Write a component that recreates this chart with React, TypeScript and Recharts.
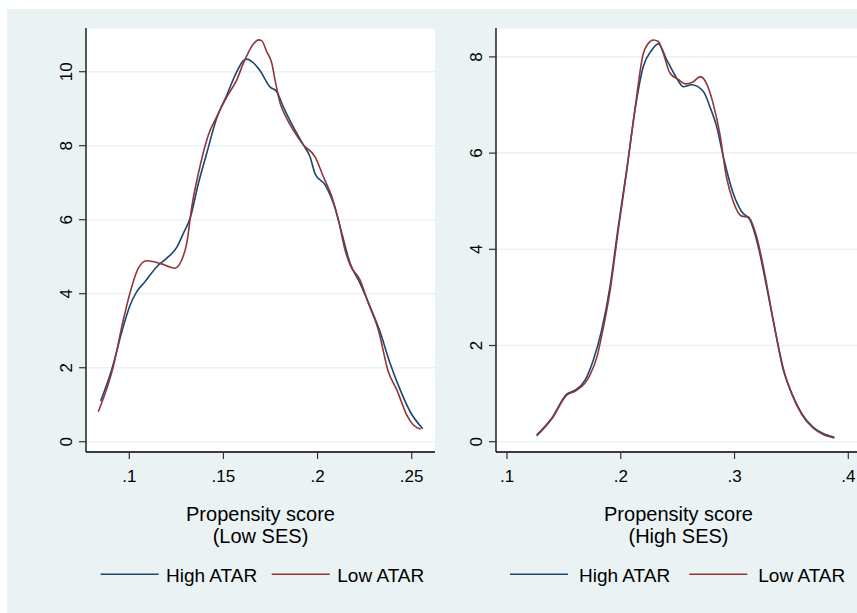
import React from 'react';
import { LineChart, Line, XAxis, YAxis, CartesianGrid, Legend } from 'recharts';

// ---- Data ----
const lowSesHighAtarX = [0.0848, 0.0906, 0.0968, 0.1004, 0.1039, 0.1083, 0.1146, 0.1199, 0.1252, 0.1287, 0.1323, 0.1367, 0.1411, 0.1464, 0.1518, 0.1571, 0.1606, 0.1624, 0.165, 0.1694, 0.1747, 0.1783, 0.1818, 0.1871, 0.1925, 0.196, 0.1987, 0.204, 0.2093, 0.2129, 0.2173, 0.2226, 0.2279, 0.2332, 0.2385, 0.2439, 0.2492, 0.2559];
const lowSesHighAtarY = [1.1, 1.94, 3.11, 3.69, 4.05, 4.32, 4.73, 4.96, 5.25, 5.63, 6.04, 6.98, 7.79, 8.74, 9.37, 10.0, 10.3, 10.34, 10.28, 10.03, 9.59, 9.46, 9.05, 8.51, 8.02, 7.7, 7.24, 6.94, 6.31, 5.63, 4.82, 4.28, 3.65, 2.97, 2.12, 1.4, 0.81, 0.35];

const lowSesLowAtarX = [0.0835, 0.0915, 0.0968, 0.1013, 0.1048, 0.1092, 0.1163, 0.1243, 0.1278, 0.1305, 0.1332, 0.1367, 0.142, 0.1464, 0.1518, 0.1571, 0.1606, 0.1659, 0.1686, 0.1703, 0.173, 0.1757, 0.1774, 0.1801, 0.1836, 0.1871, 0.1925, 0.1987, 0.2031, 0.2076, 0.2111, 0.2146, 0.2173, 0.2226, 0.227, 0.2323, 0.2376, 0.2421, 0.2474, 0.2509, 0.2548];
const lowSesLowAtarY = [0.81, 2.03, 3.29, 4.19, 4.69, 4.89, 4.82, 4.69, 4.91, 5.36, 6.35, 7.25, 8.29, 8.78, 9.32, 9.78, 10.23, 10.75, 10.86, 10.84, 10.54, 10.23, 9.78, 9.15, 8.74, 8.42, 8.02, 7.7, 7.16, 6.62, 5.99, 5.18, 4.78, 4.37, 3.74, 3.02, 1.89, 1.4, 0.72, 0.45, 0.34];

const highSesHighAtarX = [0.1261, 0.1393, 0.1525, 0.1598, 0.1686, 0.1759, 0.1832, 0.1905, 0.1978, 0.2052, 0.2125, 0.2198, 0.2272, 0.233, 0.2404, 0.2491, 0.255, 0.2623, 0.2726, 0.2784, 0.2843, 0.2901, 0.2989, 0.3063, 0.3136, 0.3209, 0.3282, 0.3356, 0.3429, 0.3502, 0.359, 0.3692, 0.378, 0.3877];
const highSesHighAtarY = [0.14, 0.49, 0.99, 1.07, 1.28, 1.7, 2.32, 3.22, 4.47, 5.65, 6.9, 7.8, 8.14, 8.27, 7.94, 7.56, 7.38, 7.42, 7.28, 6.96, 6.55, 5.93, 5.16, 4.78, 4.61, 4.05, 3.22, 2.32, 1.49, 1.01, 0.59, 0.3, 0.17, 0.09];

const highSesLowAtarX = [0.1261, 0.1393, 0.1525, 0.1598, 0.1686, 0.173, 0.1795, 0.1832, 0.1905, 0.1978, 0.2052, 0.2125, 0.2198, 0.2242, 0.2286, 0.233, 0.2374, 0.2433, 0.2506, 0.2567, 0.2635, 0.27, 0.2753, 0.2811, 0.287, 0.2928, 0.2989, 0.3063, 0.3121, 0.3194, 0.3253, 0.334, 0.3429, 0.3502, 0.359, 0.3692, 0.378, 0.3877];
const highSesLowAtarY = [0.12, 0.47, 0.97, 1.05, 1.22, 1.39, 1.8, 2.2, 3.12, 4.4, 5.62, 6.92, 8.07, 8.28, 8.35, 8.32, 8.07, 7.66, 7.53, 7.44, 7.48, 7.59, 7.45, 7.04, 6.41, 5.51, 4.99, 4.69, 4.67, 4.26, 3.64, 2.53, 1.52, 1.0, 0.57, 0.28, 0.15, 0.08];

const seriesNames = ['High ATAR', 'Low ATAR'];
const seriesColors = ['#1a476f', '#90353b'];

const lowSesXTicks = [0.1, 0.15, 0.2, 0.25];
const lowSesXTickLabels = ['.1', '.15', '.2', '.25'];
const lowSesYTicks = [0, 2, 4, 6, 8, 10];
const highSesXTicks = [0.1, 0.2, 0.3, 0.4];
const highSesXTickLabels = ['.1', '.2', '.3', '.4'];
const highSesYTicks = [0, 2, 4, 6, 8];

const lowSesTitle = ['Propensity score', '(Low SES)'];
const highSesTitle = ['Propensity score', '(High SES)'];

// ---- Helpers ----
const FONT = '"Liberation Sans", Arial, Helvetica, sans-serif';
const toPoints = (xs: number[], ys: number[]) => xs.map((x, i) => ({ x, y: ys[i] }));

type PanelProps = {
  width: number;
  marginLeft: number;
  marginRight: number;
  xDomain: [number, number];
  yDomain: [number, number];
  xTicks: number[];
  xTickLabels: string[];
  yTicks: number[];
  high: { x: number; y: number }[];
  low: { x: number; y: number }[];
  title: string[];
  legendX: number[];
};

const Panel = (p: PanelProps) => {
  const XTick = (props: any) => {
    const { x, y, payload } = props;
    const idx = p.xTicks.findIndex((t) => Math.abs(t - payload.value) < 1e-9);
    return (
      <text x={x} y={y + 20.7} textAnchor="middle" fontSize={17} fontFamily={FONT} fill="#000">
        {idx >= 0 ? p.xTickLabels[idx] : String(payload.value)}
      </text>
    );
  };
  const YTick = (props: any) => {
    const { x, y, payload } = props;
    const bx = x - 5;
    return (
      <text x={bx} y={y} transform={`rotate(-90 ${bx} ${y})`} textAnchor="middle" fontSize={17} fontFamily={FONT} fill="#000">
        {String(payload.value)}
      </text>
    );
  };
  const TitleContent = (props: any) => {
    const vb = props.viewBox || { x: 0, y: 0, width: 0 };
    const cx = vb.x + vb.width / 2;
    return (
      <g>
        <text x={cx} y={vb.y + 69.4} textAnchor="middle" fontSize={20} fontFamily={FONT} fill="#000">{p.title[0]}</text>
        <text x={cx} y={vb.y + 90.8} textAnchor="middle" fontSize={20} fontFamily={FONT} fill="#000">{p.title[1]}</text>
      </g>
    );
  };
  const LegendContent = (props: any) => {
    const payload = props.payload || [];
    const lx = p.legendX;
    return (
      <svg width={p.width} height={40} style={{ display: 'block' }}>
        {payload.map((e: any, i: number) => (
          <g key={i}>
            <line x1={lx[i * 2]} x2={lx[i * 2] + 58} y1={19.3} y2={19.3} stroke={e.color} strokeWidth={1.6} />
            <text x={lx[i * 2 + 1]} y={26.7} fontSize={19} fontFamily={FONT} fill="#000">{e.value}</text>
          </g>
        ))}
      </svg>
    );
  };
  return (
    <LineChart
      width={p.width}
      height={613}
      margin={{ top: 28, right: p.marginRight, bottom: 131, left: p.marginLeft }}
    >
      <CartesianGrid vertical={false} fill="#ffffff" stroke="#eaf2f3" strokeWidth={1.5} />
      <XAxis
        type="number"
        dataKey="x"
        domain={p.xDomain}
        ticks={p.xTicks}
        interval={0}
        allowDataOverflow
        height={30}
        tickSize={7}
        tickMargin={2}
        axisLine={{ stroke: '#000', strokeWidth: 1.3 }}
        tickLine={{ stroke: '#333', strokeWidth: 1.2 }}
        tick={XTick}
        label={{ content: TitleContent }}
      />
      <YAxis
        type="number"
        domain={p.yDomain}
        ticks={p.yTicks}
        interval={0}
        allowDataOverflow
        width={50}
        tickSize={7}
        tickMargin={2}
        axisLine={{ stroke: '#000', strokeWidth: 1.3 }}
        tickLine={{ stroke: '#333', strokeWidth: 1.2 }}
        tick={YTick}
      />
      <Line data={p.high} dataKey="y" name={seriesNames[0]} type="monotone" stroke={seriesColors[0]} strokeWidth={1.6} dot={false} activeDot={false} isAnimationActive={false} />
      <Line data={p.low} dataKey="y" name={seriesNames[1]} type="monotone" stroke={seriesColors[1]} strokeWidth={1.6} dot={false} activeDot={false} isAnimationActive={false} />
      <Legend
        layout="horizontal"
        verticalAlign="middle"
        align="center"
        wrapperStyle={{ left: 0, top: 555, width: p.width, height: 40 }}
        content={LegendContent}
      />
    </LineChart>
  );
};

export default function App() {
  return (
    <div style={{ position: 'absolute', left: 0, top: 0, width: 857, height: 613, overflow: 'hidden', background: '#ffffff' }}>
      <div style={{ position: 'absolute', left: 7, top: 9, width: 850, height: 604, background: '#eaf2f3' }} />
      <div style={{ position: 'absolute', left: 0, top: 0 }}>
        <Panel
          width={440}
          marginLeft={36}
          marginRight={5}
          xDomain={[0.077, 0.26238]}
          yDomain={[-0.278, 11.181]}
          xTicks={lowSesXTicks}
          xTickLabels={lowSesXTickLabels}
          yTicks={lowSesYTicks}
          high={toPoints(lowSesHighAtarX, lowSesHighAtarY)}
          low={toPoints(lowSesLowAtarX, lowSesLowAtarY)}
          title={lowSesTitle}
          legendX={[100.7, 166, 271.7, 337.3]}
        />
      </div>
      <div style={{ position: 'absolute', left: 440, top: 0 }}>
        <Panel
          width={425}
          marginLeft={6}
          marginRight={4}
          xDomain={[0.09033, 0.41116]}
          yDomain={[-0.214, 8.601]}
          xTicks={highSesXTicks}
          xTickLabels={highSesXTickLabels}
          yTicks={highSesYTicks}
          high={toPoints(highSesHighAtarX, highSesHighAtarY)}
          low={toPoints(highSesLowAtarX, highSesLowAtarY)}
          title={highSesTitle}
          legendX={[70, 139, 249.3, 318.3]}
        />
      </div>
    </div>
  );
}
